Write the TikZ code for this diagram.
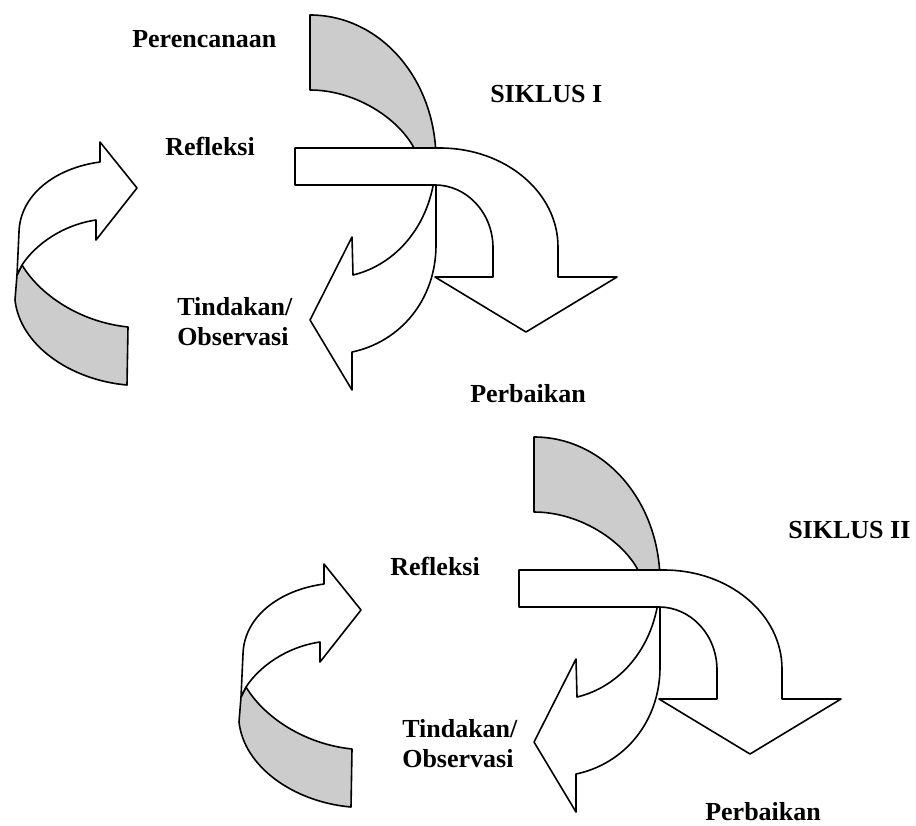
\documentclass[tikz,border=0pt]{standalone}
\usepackage{fontspec}
\setmainfont{Liberation Serif}
\usepackage{tikz}

\begin{document}
\begin{tikzpicture}[x=0.75pt,y=-0.75pt,
		backface/.style={draw, line width=1.2pt, line join=round, fill=gray!40},
		frontface/.style={draw, line width=1.2pt, line join=round, fill=white},
		lbl/.style={font=\fontsize{19.5}{23}\selectfont\bfseries, inner sep=0pt, anchor=base west}]
			\useasboundingbox (0,0) rectangle (916,825);
			\foreach \dx/\dy in {0/0, 224/422} {
				\begin{scope}[shift={(\dx,\dy)}]
					\draw[backface] (310,90) -- (310,15) .. controls (380,15) and (436,79) .. (436,160) -- (422,165) -- (414,148) .. controls (398,118) and (355,90) .. (310,90) -- cycle;
					\draw[frontface] (436,160) .. controls (434,225) and (395,265) .. (353,275) -- (352,237) -- (310,320) -- (352,390) -- (352,352) .. controls (400,342) and (436,300) .. (436,245) -- cycle;
					\draw[frontface] (295,148) -- (440,148) .. controls (505,148) and (558,192) .. (558,247) -- (558,277) -- (617,277) -- (526,332) -- (435,277) -- (493,277) -- (493,248) .. controls (493,213) and (467,185) .. (435,185) -- (295,185) -- cycle;
					\draw[backface] (17,275) -- (15,300) .. controls (20,345) and (70,380) .. (127,385) -- (128,327) .. controls (80,322) and (40,295) .. (22,265) -- cycle;
					\draw[frontface] (17,275) -- (19,232) .. controls (20,195) and (55,168) .. (100,162) -- (100,142) -- (137,188) -- (96,240) -- (96,220) .. controls (62,225) and (35,245) .. (22,265) -- cycle;
				\end{scope}
			}
			\node[lbl] (perencanaan) at (132,47) {Perencanaan};
			\node[lbl] (refleksiA) at (165,155) {Refleksi};
			\node[lbl] (siklusA) at (490,102) {SIKLUS I};
			\node[lbl] (tindakanA) at (177,315) {Tindakan/};
			\node[lbl] (observasiA) at (177,345) {Observasi};
			\node[lbl] (perbaikanA) at (470,402) {Perbaikan};
			\node[lbl] (refleksiB) at (390,575) {Refleksi};
			\node[lbl] (siklusB) at (788,538) {SIKLUS II};
			\node[lbl] (tindakanB) at (402,737) {Tindakan/};
			\node[lbl] (observasiB) at (402,767) {Observasi};
			\node[lbl] (perbaikanB) at (705,820) {Perbaikan};
		\end{tikzpicture}
\end{document}
